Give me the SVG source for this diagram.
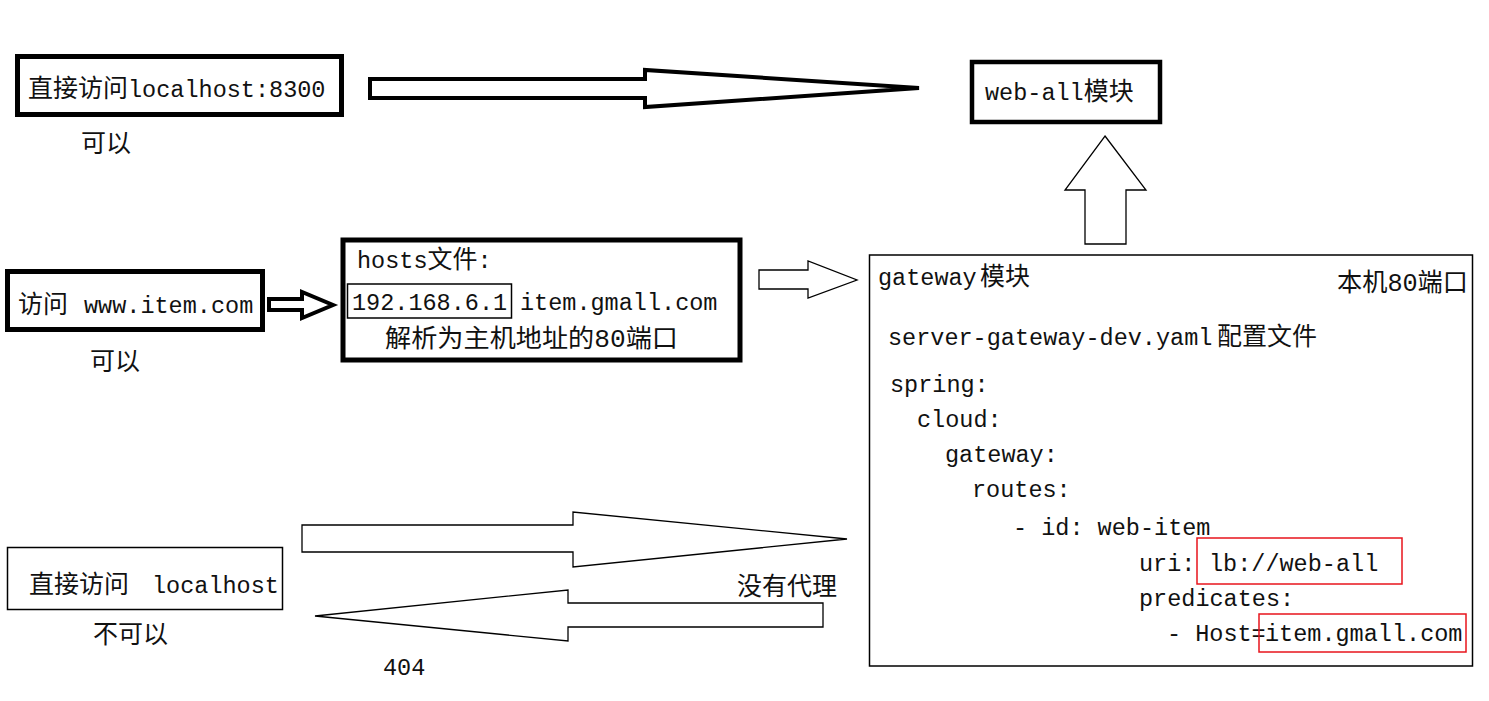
<svg xmlns="http://www.w3.org/2000/svg" width="1489" height="701" viewBox="0 0 1489 701">
<style>
.t{font-family:"Liberation Mono","Noto Sans CJK SC",monospace;font-size:23.5px;fill:#111}
.c{font-size:25px}
.thick{fill:none;stroke:#000;stroke-width:5}
.thin{fill:none;stroke:#000;stroke-width:1.5}
.red{fill:none;stroke:#e8141c;stroke-width:1.5}
.arT{fill:#fff;stroke:#000;stroke-width:4;stroke-linejoin:miter}
.arN{fill:#fff;stroke:#000;stroke-width:1.3}
</style>
<rect width="1489" height="701" fill="#fff"/>

<g id="connectors">
<polygon class="arT" points="370,79 645,79 645,70 919,88 645,107 645,98 370,98"/>
<polygon class="arN" points="1105,136 1146,190 1126,190 1126,244 1085,244 1085,190 1065,190"/>
<polygon class="arT" points="269,299 302,299 302,292 333,305 302,318 302,310 269,310"/>
<polygon class="arN" points="759,270 808,270 808,261 857,280 808,298 808,289 759,289"/>
<polygon class="arN" points="302,525 573,525 573,512 847,539 573,567 573,552 302,552"/>
<polygon class="arN" points="315,616 568,590 568,603 823,603 823,627 568,627 568,641"/>
</g>

<g id="node-localhost8300">
<rect class="thick" x="17.5" y="56.5" width="324" height="58"/>
<text class="t" x="28" y="97"><tspan class="c">直接访问</tspan>localhost:8300</text>
<text class="t c" x="81" y="152">可以</text>
</g>

<g id="node-web-all">
<rect class="thick" x="972" y="62" width="188" height="60" style="stroke-width:4.5"/>
<text class="t" x="985" y="100">web-all<tspan class="c">模块</tspan></text>
</g>

<g id="node-www-item">
<rect class="thick" x="7.5" y="271.5" width="255" height="58"/>
<text class="t" x="18" y="313"><tspan class="c">访问</tspan><tspan x="84">www.item.com</tspan></text>
<text class="t c" x="90" y="370">可以</text>
</g>

<g id="node-hosts">
<rect class="thick" x="343" y="240" width="397" height="120"/>
<rect class="thin" x="347.5" y="284" width="164" height="34"/>
<text class="t" x="357" y="268">hosts<tspan class="c">文件</tspan>:</text>
<text class="t" x="352" y="310">192.168.6.1</text>
<text class="t" x="520" y="310">item.gmall.com</text>
<text class="t c" x="385" y="347" textLength="293" lengthAdjust="spacingAndGlyphs">解析为主机地址的80端口</text>
</g>

<g id="node-gateway">
<rect class="thin" x="869.5" y="255" width="603" height="411"/>
<text class="t" x="878" y="285">gateway<tspan class="c" x="980">模块</tspan></text>
<text class="t c" x="1337" y="291" textLength="131" lengthAdjust="spacingAndGlyphs">本机80端口</text>
<text class="t" x="888" y="345">server-gateway-dev.yaml<tspan class="c" x="1217">配置文件</tspan></text>
<text class="t" x="890" y="392">spring:</text>
<text class="t" x="917" y="427">cloud:</text>
<text class="t" x="945" y="462">gateway:</text>
<text class="t" x="972" y="497">routes:</text>
<text class="t" x="1013" y="535">- id: web-item</text>
<text class="t" x="1139" y="571">uri: <tspan x="1209">lb://web-all</tspan></text>
<text class="t" x="1139" y="606">predicates:</text>
<text class="t" x="1167" y="641">- Host=<tspan x="1265">item.gmall.com</tspan></text>
<rect class="red" x="1197" y="538" width="205" height="46"/>
<rect class="red" x="1259" y="614" width="207" height="38"/>
</g>

<g id="node-localhost">
<rect class="thin" x="7.5" y="547.5" width="275" height="62"/>
<text class="t" x="29" y="593"><tspan class="c">直接访问</tspan><tspan x="152">localhost</tspan></text>
<text class="t c" x="93" y="643">不可以</text>
</g>

<g id="labels">
<text class="t" x="383" y="675">404</text>
<text class="t c" x="737" y="595">没有代理</text>
</g>
</svg>
